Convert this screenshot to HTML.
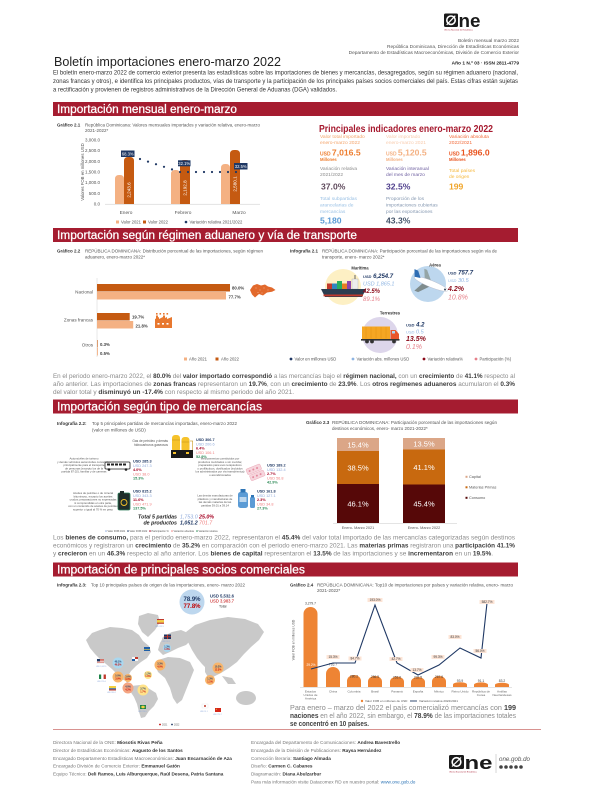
<!DOCTYPE html>
<html lang="es"><head><meta charset="utf-8"><title>Boletín importaciones enero-marzo 2022</title>
<style>
html,body{margin:0;padding:0;background:#fff;width:612px;height:792px;overflow:hidden}
svg{display:block;font-family:"Liberation Sans",Arial,sans-serif}
</style></head><body>
<svg width="612" height="792" viewBox="0 0 612 792" xmlns="http://www.w3.org/2000/svg">
<rect width="612" height="792" fill="#fff"/>

<!-- ===== HEADER ===== -->
<g transform="translate(444,13)">
<rect x="0" y="0.5" width="14" height="13.5" rx="1.5" fill="#1a1a1a"/>
<circle cx="7" cy="7.2" r="4.2" fill="none" stroke="#fff" stroke-width="1.6"/>
<line x1="2.7" y1="11.8" x2="11.3" y2="2.7" stroke="#fff" stroke-width="1.2"/>
<text x="14.5" y="13.8" font-size="18" font-weight="bold" fill="#1a1a1a" textLength="22" lengthAdjust="spacingAndGlyphs">ne</text>
<text x="0" y="17.3" font-size="2.1" fill="#A6192E">Oficina Nacional de Estadística</text>
</g>
<g font-size="4.8" fill="#555" text-anchor="end">
<text x="519" y="42">Boletín mensual marzo 2022</text>
<text x="519" y="48">República Dominicana, Dirección de Estadísticas Económicas</text>
<text x="519" y="54">Departamento de Estadísticas Macroeconómicas, División de Comercio Exterior</text>
<text x="519" y="64.5" font-weight="bold" fill="#222">Año 1 N.º 03 · ISSN 2811-4779</text>
</g>
<text x="54" y="66" font-size="12.5" fill="#222" textLength="227" lengthAdjust="spacingAndGlyphs">Boletín importaciones enero-marzo 2022</text>
<g font-size="6.3" fill="#333">
<text x="53" y="74.5" textLength="465" lengthAdjust="spacingAndGlyphs">El boletín enero-marzo 2022 de comercio exterior presenta las estadísticas sobre las importaciones de bienes y mercancías, desagregados, según su régimen aduanero (nacional,</text>
<text x="53" y="83" textLength="465" lengthAdjust="spacingAndGlyphs">zonas francas y otros), e identifica los principales productos, vías de transporte y la participación de los principales países socios comerciales del país. Estas cifras están sujetas</text>
<text x="53" y="91.5" textLength="284" lengthAdjust="spacingAndGlyphs">a rectificación y provienen de registros administrativos de la Dirección General de Aduanas (DGA) validados.</text>
</g>

<!-- ===== SECTION BARS ===== -->
<g fill="#A51C30">
<rect x="53" y="102" width="465" height="14"/>
<rect x="53" y="228" width="465" height="14"/>
<rect x="53" y="399.5" width="465" height="14"/>
<rect x="53" y="562.5" width="465" height="14"/>
</g>
<g fill="#fff" font-size="11.5" stroke="#fff" stroke-width="0.25">
<text x="57" y="113.2" textLength="180" lengthAdjust="spacingAndGlyphs">Importación mensual enero-marzo</text>
<text x="57" y="239.2" textLength="300" lengthAdjust="spacingAndGlyphs">Importación según régimen aduanero y vía de transporte</text>
<text x="57" y="410.7" textLength="205" lengthAdjust="spacingAndGlyphs">Importación según tipo de mercancías</text>
<text x="57" y="573.7" textLength="248" lengthAdjust="spacingAndGlyphs">Importación de principales socios comerciales</text>
</g>

<!-- ===== SECTION 1: CHART 2.1 ===== -->
<text x="57" y="126.5" font-size="4.5" font-weight="bold" fill="#333">Gráfico 2.1</text>
<text x="85" y="126.5" font-size="4.5" fill="#555" textLength="175" lengthAdjust="spacingAndGlyphs">República Dominicana: Valores mensuales importados y variación relativa, enero-marzo</text>
<text x="85" y="132" font-size="4.5" fill="#555">2021-2022*</text>
<g font-size="4.5" fill="#555" text-anchor="end">
<text x="100" y="141.5">3,000.0</text>
<text x="100" y="152.2">2,500.0</text>
<text x="100" y="162.8">2,000.0</text>
<text x="100" y="173.5">1,500.0</text>
<text x="100" y="184.2">1,000.0</text>
<text x="100" y="194.8">500.0</text>
<text x="100" y="205.5">0.0</text>
</g>
<text transform="translate(84,172) rotate(-90)" text-anchor="middle" font-size="4.3" fill="#555">Valores FOB en millones USD</text>
<line x1="105" y1="204.2" x2="260" y2="204.2" stroke="#c8c8c8" stroke-width="0.5"/>
<g fill="#F4B183">
<path d="M115,204 V179 Q115,175 119,175 H120 Q124,175 124,179 V204 Z"/>
<path d="M171,204 V174 Q171,170 175,170 H176 Q180,170 180,174 V204 Z"/>
<path d="M221,204 V168 Q221,164 225,164 H226 Q230,164 230,168 V204 Z"/>
</g>
<g fill="#C55A11">
<path d="M124,204 V161 Q124,157 128,157 H130 Q134,157 134,161 V204 Z"/>
<path d="M180,204 V164 Q180,160 184,160 H186 Q190,160 190,164 V204 Z"/>
<path d="M230,204 V154 Q230,150 234,150 H236 Q240,150 240,154 V204 Z"/>
</g>
<g font-size="4.6" fill="#fff" text-anchor="middle">
<text transform="translate(130.7,190) rotate(-90)">2,243.6</text>
<text transform="translate(186.7,188) rotate(-90)">2,192.8</text>
<text transform="translate(236.7,184) rotate(-90)">2,580.1</text>
</g>
<g fill="#1F3864">
<circle cx="140" cy="159" r="1.1"/><circle cx="148" cy="161.6" r="1.1"/><circle cx="156" cy="164.2" r="1.1"/>
<circle cx="164" cy="166.8" r="1.1"/><circle cx="172" cy="169.4" r="1.1"/><circle cx="180" cy="172" r="1.1"/>
<circle cx="188" cy="172" r="1.1"/><circle cx="196" cy="172" r="1.1"/><circle cx="204" cy="172" r="1.1"/>
<circle cx="212" cy="172" r="1.1"/><circle cx="220" cy="172" r="1.1"/><circle cx="228" cy="172" r="1.1"/>
<circle cx="236" cy="172" r="1.1"/>
<rect x="121" y="150.5" width="13.5" height="6.5"/>
<rect x="178" y="160.3" width="12.5" height="6"/>
<rect x="234" y="163" width="13.5" height="6.5"/>
</g>
<g font-size="4.2" fill="#fff" text-anchor="middle">
<text x="127.7" y="155.4">68.3%</text>
<text x="184.2" y="165">32.1%</text>
<text x="240.7" y="167.9">32.5%</text>
</g>
<g font-size="4.8" fill="#555" text-anchor="middle">
<text x="126" y="214">Enero</text>
<text x="183" y="214">Febrero</text>
<text x="239" y="214">Marzo</text>
</g>
<g font-size="4.2" fill="#555">
<rect x="116" y="220.5" width="3" height="3" fill="#F4B183"/><text x="121" y="223.5">Valor 2021</text>
<rect x="143" y="220.5" width="3" height="3" fill="#C55A11"/><text x="148" y="223.5">Valor 2022</text>
<circle cx="186" cy="222" r="1.3" fill="#1F3864"/><text x="189.5" y="223.5">Variación relativa 2021/2022</text>
</g>

<!-- ===== SECTION 1: INDICATORS ===== -->
<text x="319" y="132" font-size="10" font-weight="bold" fill="#A6192E" textLength="174" lengthAdjust="spacingAndGlyphs">Principales indicadores enero-marzo 2022</text>
<g font-size="4.9">
<text x="320" y="137.8" fill="#F4A46A">Valor total importado</text>
<text x="320" y="143.8" fill="#F4A46A">enero-marzo 2022</text>
<text x="320" y="155.5" fill="#EE7D2E" font-weight="bold"><tspan font-size="5">USD</tspan> <tspan font-size="8.6">7,016.5</tspan></text>
<text x="320" y="161" fill="#EE7D2E" font-weight="bold" font-size="4.2">Millones</text>

<text x="386" y="137.8" fill="#F8CBAD">Valor importado</text>
<text x="386" y="143.8" fill="#F8CBAD">enero-marzo 2021</text>
<text x="386" y="155.5" fill="#F4B183" font-weight="bold"><tspan font-size="5">USD</tspan> <tspan font-size="8.6">5,120.5</tspan></text>
<text x="386" y="161" fill="#F4B183" font-weight="bold" font-size="4.2">Millones</text>

<text x="449" y="137.8" fill="#F26B3A">Variación absoluta</text>
<text x="449" y="143.8" fill="#F26B3A">2022/2021</text>
<text x="449" y="155.5" fill="#E9541F" font-weight="bold"><tspan font-size="5">USD</tspan> <tspan font-size="8.6">1,896.0</tspan></text>
<text x="449" y="161" fill="#E9541F" font-weight="bold" font-size="4.2">Millones</text>

<text x="320" y="170" fill="#8C8C8C">Variación relativa</text>
<text x="320" y="176" fill="#8C8C8C">2021/2022</text>
<text x="321" y="189.5" fill="#5F4A5C" font-weight="bold" font-size="8.6">37.0%</text>

<text x="386" y="170" fill="#6E5FA0">Variación interanual</text>
<text x="386" y="176" fill="#6E5FA0">del mes de marzo</text>
<text x="386" y="189.5" fill="#4F3F8C" font-weight="bold" font-size="8.6">32.5%</text>

<text x="449" y="172" fill="#F6B83C">Total países</text>
<text x="449" y="178" fill="#F6B83C">de origen</text>
<text x="449" y="189.5" fill="#F0A52A" font-weight="bold" font-size="8.6">199</text>

<text x="320" y="200" fill="#9CC2E5">Total subpartidas</text>
<text x="320" y="206.5" fill="#9CC2E5">arancelarias de</text>
<text x="320" y="213" fill="#9CC2E5">mercancías</text>
<text x="320" y="223.5" fill="#5B9BD5" font-weight="bold" font-size="8.6">5,180</text>

<text x="386" y="200" fill="#8497B0">Proporción de los</text>
<text x="386" y="206.5" fill="#8497B0">importaciones cubiertas</text>
<text x="386" y="213" fill="#8497B0">por las exportaciones</text>
<text x="386" y="223.5" fill="#44546A" font-weight="bold" font-size="8.6">43.3%</text>
</g>

<!-- ===== SECTION 2: CHART 2.2 ===== -->
<text x="57" y="252.5" font-size="4.5" font-weight="bold" fill="#333">Gráfico 2.2</text>
<text x="85" y="252.5" font-size="4.5" fill="#555" textLength="178" lengthAdjust="spacingAndGlyphs">REPÚBLICA DOMINICANA: Distribución porcentual de las importaciones, según régimen</text>
<text x="85" y="258.5" font-size="4.5" fill="#555">aduanero, enero-marzo 2022*</text>
<line x1="97" y1="278" x2="97" y2="357" stroke="#d0d0d0" stroke-width="0.5"/>
<rect x="97" y="284" width="133" height="7.5" fill="#C55A11"/>
<rect x="97" y="292" width="129" height="7.5" fill="#F4B183"/>
<rect x="97" y="313" width="32.7" height="7.5" fill="#C55A11"/>
<rect x="97" y="321" width="36.2" height="7.5" fill="#F4B183"/>
<rect x="97" y="340" width="0.6" height="7.5" fill="#C55A11"/>
<rect x="97" y="348" width="0.9" height="7.5" fill="#F4B183"/>
<g font-size="4.3" font-weight="bold" fill="#404040">
<text x="232" y="289.3">80.0%</text>
<text x="228.5" y="298.3">77.7%</text>
<text x="132" y="318.3">19.7%</text>
<text x="135.5" y="327.6">21.8%</text>
<text x="100" y="346">0.3%</text>
<text x="100" y="355">0.5%</text>
</g>
<g font-size="4.6" fill="#555" text-anchor="end">
<text x="93" y="293.3">Nacional</text>
<text x="93" y="321.7">Zonas francas</text>
<text x="93" y="346.7">Otros</text>
</g>
<path d="M250,290 L253,285.5 L257,284 L261,285.5 L265,284.5 L268,286.5 L272,287.5 L275.5,290 L272,291.8 L267,292.5 L263,295.5 L259,294 L255,297.5 L252,294.5 Z" fill="#E2692C"/>
<g fill="#fff" opacity="0.55"><circle cx="256" cy="288" r="0.5"/><circle cx="260" cy="290" r="0.5"/><circle cx="264" cy="288" r="0.5"/><circle cx="268" cy="290" r="0.5"/><circle cx="258" cy="292.5" r="0.5"/><circle cx="262" cy="293" r="0.5"/></g>
<g fill="#E8782F">
<rect x="156" y="313" width="1.6" height="1.6"/><rect x="159.5" y="313" width="1.6" height="1.6"/><rect x="163" y="313" width="1.6" height="1.6"/><rect x="166.5" y="313" width="1.6" height="1.6"/>
<rect x="156" y="315.5" width="2" height="4"/><rect x="163" y="315.5" width="2" height="4"/>
<path d="M155,328 V319 L159,317 V319 L163,317 V319 L167,317 V319 L172,317 V328 Z"/>
</g>
<g fill="#fff"><rect x="157.5" y="323" width="2" height="1.6"/><rect x="162" y="323" width="2" height="1.6"/><rect x="166.5" y="323" width="2" height="1.6"/></g>
<g font-size="4.2" fill="#555">
<rect x="184" y="357.5" width="3" height="3" fill="#F4B183"/><text x="189" y="360.5">Año 2021</text>
<rect x="215.5" y="357.5" width="3" height="3" fill="#C55A11"/><text x="221" y="360.5">Año 2022</text>
</g>

<!-- ===== SECTION 2: INFOGRAFIA 2.1 ===== -->
<text x="290" y="252.5" font-size="4.5" font-weight="bold" fill="#333">Infografía 2.1</text>
<text x="322" y="252.5" font-size="4.5" fill="#555" textLength="175" lengthAdjust="spacingAndGlyphs">REPÚBLICA DOMINICANA: Participación porcentual de las importaciones según vía de</text>
<text x="322" y="258.5" font-size="4.5" fill="#555">transporte, enero- marzo 2022*</text>
<circle cx="343" cy="287" r="18" fill="#FDF0C4"/>
<text x="360" y="269.5" font-size="4.2" font-weight="bold" fill="#333" text-anchor="middle">Marítima</text>
<rect x="327" y="283.5" width="5" height="5.5" fill="#C0392B"/>
<rect x="332" y="283.5" width="5" height="5.5" fill="#2E86C1"/>
<rect x="337" y="281" width="5" height="8" fill="#27AE60"/>
<rect x="342" y="283.5" width="5" height="5.5" fill="#E67E22"/>
<rect x="347" y="281" width="4" height="8" fill="#8E44AD"/>
<rect x="352" y="279" width="6" height="10" fill="#ECECEC" stroke="#999" stroke-width="0.3"/>
<rect x="354.5" y="275" width="1" height="4" fill="#666"/>
<path d="M321,289 L366,289 L362,297 L325,297 Z" fill="#2C3E50"/>
<rect x="323.5" y="294.5" width="39.5" height="1.8" fill="#C0392B"/>
<g font-style="italic">
<text x="363" y="278" font-size="6" font-weight="bold" fill="#1F3864"><tspan font-size="4">USD</tspan> 6,254.7</text>
<text x="363" y="285.5" font-size="5.5" fill="#8DB4E2">USD 1,865.1</text>
<text x="363" y="293" font-size="6" font-weight="bold" fill="#8B0A1A">42.5%</text>
<text x="363" y="301" font-size="6" fill="#E6808A">89.1%</text>
</g>
<circle cx="428" cy="284" r="18" fill="#BDD7EE"/>
<text x="435" y="266.5" font-size="4.2" font-weight="bold" fill="#333" text-anchor="middle">Aérea</text>
<g transform="rotate(22 430 284)">
<path d="M424,284 L418,296 L422,296 L432,285 Z" fill="#7f8c8d"/>
<path d="M424,283 L419,272 L422,272 L431,282 Z" fill="#95a5a6"/>
<ellipse cx="431" cy="283.5" rx="18" ry="3.3" fill="#fff" stroke="#aab" stroke-width="0.3"/>
<path d="M413,283 L410,276 L414,276 L419,282 Z" fill="#2E6DB4"/>
<circle cx="446" cy="283.5" r="1" fill="#34495e"/>
</g>
<g font-style="italic">
<text x="448" y="274.5" font-size="6" font-weight="bold" fill="#1F3864"><tspan font-size="4">USD</tspan> 757.7</text>
<text x="448" y="282" font-size="5.5" fill="#8DB4E2"><tspan font-size="4">USD</tspan> 30.5</text>
<text x="448" y="291" font-size="7" font-weight="bold" fill="#8B0A1A">4.2%</text>
<text x="448" y="299.5" font-size="7" fill="#E6808A">10.8%</text>
</g>
<circle cx="380" cy="335" r="18" fill="#DDD6EB"/>
<text x="390" y="314.5" font-size="4.2" font-weight="bold" fill="#333" text-anchor="middle">Terrestres</text>
<rect x="362" y="326.5" width="28" height="12.5" fill="#F5A623"/>
<g stroke="#E08E0B" stroke-width="0.4"><line x1="366" y1="327" x2="366" y2="338.5"/><line x1="371" y1="327" x2="371" y2="338.5"/><line x1="376" y1="327" x2="376" y2="338.5"/><line x1="381" y1="327" x2="381" y2="338.5"/><line x1="386" y1="327" x2="386" y2="338.5"/></g>
<path d="M390.5,339 V330 H395.5 L399,334 V339 Z" fill="#E8542A"/>
<rect x="392" y="331" width="3" height="2.5" fill="#AED6F1"/>
<rect x="361" y="339" width="38.5" height="1.6" fill="#333"/>
<circle cx="367" cy="341.5" r="1.9" fill="#333"/><circle cx="372" cy="341.5" r="1.9" fill="#333"/><circle cx="394" cy="341.5" r="1.9" fill="#333"/>
<g font-style="italic">
<text x="406" y="326.5" font-size="6" font-weight="bold" fill="#1F3864"><tspan font-size="4">USD</tspan> 4.2</text>
<text x="406" y="333.5" font-size="5.5" fill="#8DB4E2"><tspan font-size="4">USD</tspan> 0.5</text>
<text x="406" y="341" font-size="7" font-weight="bold" fill="#8B0A1A">13.5%</text>
<text x="406" y="349" font-size="7" fill="#E6808A">0.1%</text>
</g>
<g font-size="4.2" fill="#555">
<circle cx="291" cy="359" r="1.4" fill="#1F3864"/><text x="294.5" y="360.5">Valor en millones USD</text>
<circle cx="353" cy="359" r="1.4" fill="#8DB4E2"/><text x="356.5" y="360.5">Variación abs. millones USD</text>
<circle cx="424" cy="359" r="1.4" fill="#8B0A1A"/><text x="427.5" y="360.5">Variación relativa%</text>
<circle cx="476" cy="359" r="1.4" fill="#E6808A"/><text x="479.5" y="360.5">Participación (%)</text>
</g>

<!-- paragraph 2 -->
<g font-size="6.3" fill="#8a8a8a">
<text x="53" y="378" textLength="462" lengthAdjust="spacingAndGlyphs">En el periodo enero-marzo 2022, el <tspan font-weight="bold" fill="#404040">80.0%</tspan> del <tspan font-weight="bold" fill="#404040">valor importado correspondió</tspan> a las mercancías bajo el <tspan font-weight="bold" fill="#404040">régimen nacional,</tspan> con un <tspan font-weight="bold" fill="#404040">crecimiento</tspan> de <tspan font-weight="bold" fill="#404040">41.1%</tspan> respecto al</text>
<text x="53" y="386" textLength="462" lengthAdjust="spacingAndGlyphs">año anterior.  Las importaciones de <tspan font-weight="bold" fill="#404040">zonas francas</tspan> representaron un <tspan font-weight="bold" fill="#404040">19.7%</tspan>, con un <tspan font-weight="bold" fill="#404040">crecimiento</tspan> de <tspan font-weight="bold" fill="#404040">23.9%</tspan>. Los <tspan font-weight="bold" fill="#404040">otros regímenes aduaneros</tspan> acumularon el <tspan font-weight="bold" fill="#404040">0.3%</tspan></text>
<text x="53" y="394" textLength="241" lengthAdjust="spacingAndGlyphs">del valor total y <tspan font-weight="bold" fill="#404040">disminuyó un -17.4%</tspan> con respecto al mismo periodo del año 2021.</text>
</g>

<!-- ===== SECTION 3: INFOGRAFIA 2.2 ===== -->
<text x="57" y="425" font-size="4.5" font-weight="bold" fill="#333">Infografía 2.2:</text>
<text x="92" y="425" font-size="4.5" fill="#555" textLength="145" lengthAdjust="spacingAndGlyphs">Top 5 principales partidas de mercancías importadas, enero-marzo 2022</text>
<text x="92" y="431.5" font-size="4.5" fill="#555">(valor en millones de USD)</text>
<rect x="172" y="435" width="8" height="17" rx="3" fill="#F6C22B"/>
<rect x="181.5" y="437" width="8" height="15" rx="3" fill="#F6C22B"/>
<g stroke="#C9971A" stroke-width="0.6"><line x1="172" y1="440" x2="180" y2="440"/><line x1="181.5" y1="442" x2="189.5" y2="442"/><line x1="190" y1="441" x2="193" y2="441"/><line x1="192.5" y1="441" x2="192.5" y2="450"/></g>
<rect x="171" y="450" width="22" height="8" fill="#1a1a1a"/>
<rect x="173" y="452" width="3" height="2" fill="#F6C22B"/><rect x="186" y="452" width="3" height="2" fill="#F6C22B"/>
<g font-size="3.2" fill="#555" text-anchor="end"><text x="168" y="442">Gas de petróleo y demás</text><text x="168" y="446">hidrocarburos gaseosos</text></g>
<rect x="105" y="462" width="25" height="7" rx="1" fill="#fff" stroke="#222" stroke-width="0.8"/>
<g fill="#222"><rect x="107" y="463.5" width="3" height="2"/><rect x="111" y="463.5" width="3" height="2"/><rect x="115" y="463.5" width="3" height="2"/><rect x="119" y="463.5" width="3" height="2"/><rect x="123" y="463.5" width="3" height="2"/><circle cx="109" cy="469.5" r="1.3"/><circle cx="126" cy="469.5" r="1.3"/></g>
<g font-size="2.8" fill="#555" text-anchor="middle">
<text x="84" y="459.5">Automóviles de turismo</text>
<text x="84" y="462.8">y demás vehículos automóviles concebidos</text>
<text x="84" y="466.1">principalmente para el transporte</text>
<text x="84" y="469.4">de personas (excepto los de la</text>
<text x="84" y="472.7">partida 87.02), familiar y de carreras</text>
</g>
<g transform="rotate(-22 255 471)">
<rect x="247" y="466" width="15" height="6" rx="1" fill="#F6D5DC" stroke="#E8A0B0" stroke-width="0.4"/>
<rect x="248" y="473" width="15" height="6" rx="1" fill="#F6D5DC" stroke="#E8A0B0" stroke-width="0.4"/>
<g fill="#E38BA0"><circle cx="250" cy="469" r="1"/><circle cx="254" cy="469" r="1"/><circle cx="258" cy="469" r="1"/><circle cx="251" cy="476" r="1"/><circle cx="255" cy="476" r="1"/><circle cx="259" cy="476" r="1"/></g>
</g>
<g font-size="2.8" fill="#555" text-anchor="middle">
<text x="220" y="459.5">Medicamentos constituidos por</text>
<text x="220" y="462.8">productos mezclados o sin mezclar,</text>
<text x="220" y="466.1">preparados para usos terapéuticos</text>
<text x="220" y="469.4">o profilácticos, dosificados (incluidos</text>
<text x="220" y="472.7">los administrados por vía transdérmica)</text>
<text x="220" y="476">o acondicionados</text>
</g>
<rect x="118" y="493" width="12" height="17" rx="1.5" fill="#1F2D2A" stroke="#2E7D5B" stroke-width="0.8"/>
<rect x="120" y="491" width="4" height="3" fill="#1F2D2A"/>
<circle cx="124" cy="502.5" r="3" fill="none" stroke="#F6C22B" stroke-width="0.9"/>
<g font-size="2.8" fill="#555" text-anchor="middle">
<text x="93" y="494">Aceites de petróleo o de mineral</text>
<text x="93" y="497.3">bituminoso, excepto los aceites</text>
<text x="93" y="500.6">crudos; preparaciones no expresadas</text>
<text x="93" y="503.9">ni comprendidas en otra parte,</text>
<text x="93" y="507.2">con un contenido de aceites de petróleo</text>
<text x="93" y="510.5">superior o igual al 70 % en peso</text>
</g>
<rect x="238" y="492" width="10" height="16" rx="2.5" fill="#5B9BD5"/>
<rect x="240.5" y="489" width="5" height="3.5" fill="#2E75B6"/>
<rect x="239.5" y="497" width="7" height="5" fill="#BDD7EE"/>
<rect x="250" y="497" width="5" height="11" rx="1.5" fill="#5B9BD5"/>
<rect x="251" y="495" width="3" height="2.5" fill="#2E75B6"/>
<g font-size="2.8" fill="#555" text-anchor="middle">
<text x="215" y="496.5">Las demás manufacturas de</text>
<text x="215" y="499.8">plásticos y manufacturas de</text>
<text x="215" y="503.1">las demás materias de las</text>
<text x="215" y="506.4">partidas 39.01 a 39.14</text>
</g>
<g font-size="3.8">
<text x="196" y="441" fill="#1F3864" font-weight="bold">USD 306.7</text>
<text x="196" y="445.3" fill="#8EA9DB">USD 200.6</text>
<text x="196" y="449.6" fill="#A50021" font-weight="bold">6.4%</text>
<text x="196" y="453.9" fill="#F08080">USD 106.1</text>
<text x="196" y="458.2" fill="#2E8B57" font-weight="bold">52.9%</text>
<text x="133" y="462.5" fill="#1F3864" font-weight="bold">USD 285.3</text>
<text x="133" y="466.8" fill="#8EA9DB">USD 247.3</text>
<text x="133" y="471.1" fill="#A50021" font-weight="bold">4.0%</text>
<text x="133" y="475.4" fill="#F08080">USD 38.0</text>
<text x="133" y="479.7" fill="#2E8B57" font-weight="bold">15.3%</text>
<text x="267" y="466.5" fill="#1F3864" font-weight="bold">USD 189.2</text>
<text x="267" y="470.8" fill="#8EA9DB">USD 132.4</text>
<text x="267" y="475.1" fill="#A50021" font-weight="bold">2.7%</text>
<text x="267" y="479.4" fill="#F08080">USD 56.8</text>
<text x="267" y="483.7" fill="#2E8B57" font-weight="bold">42.9%</text>
<text x="133" y="492.5" fill="#1F3864" font-weight="bold">USD 815.2</text>
<text x="133" y="496.8" fill="#8EA9DB">USD 343.3</text>
<text x="133" y="501.1" fill="#A50021" font-weight="bold">11.6%</text>
<text x="133" y="505.4" fill="#F08080">USD 471.9</text>
<text x="133" y="509.7" fill="#2E8B57" font-weight="bold">137.5%</text>
<text x="257" y="492.5" fill="#1F3864" font-weight="bold">USD 161.8</text>
<text x="257" y="496.8" fill="#8EA9DB">USD 127.1</text>
<text x="257" y="501.1" fill="#A50021" font-weight="bold">2.3%</text>
<text x="257" y="505.4" fill="#F08080">USD 34.8</text>
<text x="257" y="509.7" fill="#2E8B57" font-weight="bold">27.3%</text>
</g>
<g font-size="5.3" font-style="italic" font-weight="bold">
<text x="177" y="518.5" fill="#222" text-anchor="end">Total 5 partidas</text>
<text x="177" y="524.5" fill="#222" text-anchor="end">de productos</text>
<text x="180" y="518.5" fill="#8EA9DB" font-weight="normal">1,753.0</text>
<text x="180" y="524.5" fill="#1F3864">1,051.2</text>
<text x="199" y="518.5" fill="#A50021">25.0%</text>
<text x="199" y="524.5" fill="#F08080" font-weight="normal">701.7</text>
</g>
<g font-size="2.5" fill="#555">
<circle cx="106" cy="531" r="0.8" fill="#8EA9DB"/><text x="107.5" y="531.8">Valor FOB 2021</text>
<circle cx="128" cy="531" r="0.8" fill="#1F3864"/><text x="129.5" y="531.8">Valor FOB 2022</text>
<circle cx="150" cy="531" r="0.8" fill="#A50021"/><text x="151.5" y="531.8">Participación %</text>
<circle cx="172" cy="531" r="0.8" fill="#F08080"/><text x="173.5" y="531.8">Variación absoluta</text>
<circle cx="197" cy="531" r="0.8" fill="#2E8B57"/><text x="198.5" y="531.8">Variación relativa</text>
</g>

<!-- ===== SECTION 3: CHART 2.3 ===== -->
<text x="306" y="424" font-size="4.5" font-weight="bold" fill="#333">Gráfico 2.3</text>
<text x="332" y="424" font-size="4.5" fill="#555" textLength="165" lengthAdjust="spacingAndGlyphs">REPÚBLICA DOMINICANA: Participación porcentual de las importaciones según</text>
<text x="332" y="430" font-size="4.5" fill="#555">destinos económicos, enero- marzo 2021-2022*</text>
<rect x="337" y="438" width="42" height="13" fill="#DBA687"/>
<rect x="337" y="451" width="42" height="33" fill="#C8690F"/>
<rect x="337" y="484" width="42" height="39" fill="#560808"/>
<rect x="403" y="438" width="42" height="11.5" fill="#DBA687"/>
<rect x="403" y="449.5" width="42" height="35" fill="#C8690F"/>
<rect x="403" y="484.5" width="42" height="38.5" fill="#560808"/>
<line x1="333" y1="523.3" x2="457" y2="523.3" stroke="#c8c8c8" stroke-width="0.5"/>
<g font-size="7.5" fill="#fff" text-anchor="middle">
<text x="358" y="447.3">15.4%</text>
<text x="358" y="470.3">38.5%</text>
<text x="358" y="506.3">46.1%</text>
<text x="424" y="446.5">13.5%</text>
<text x="424" y="469.8">41.1%</text>
<text x="424" y="506.5">45.4%</text>
</g>
<g font-size="3.8" fill="#555" text-anchor="middle">
<text x="358" y="529">Enero- Marzo 2021</text>
<text x="424" y="529">Enero- Marzo 2022</text>
</g>
<g font-size="3.8" fill="#555">
<rect x="465.5" y="475.8" width="2" height="2" fill="#DBA687"/><text x="469" y="478">Capital</text>
<rect x="465.5" y="486.3" width="2" height="2" fill="#C8690F"/><text x="469" y="488.5">Materias Primas</text>
<rect x="465.5" y="496.8" width="2" height="2" fill="#560808"/><text x="469" y="499">Consumo</text>
</g>

<!-- paragraph 3 -->
<g font-size="6.3" fill="#8a8a8a">
<text x="53" y="539.5" textLength="462" lengthAdjust="spacingAndGlyphs">Los <tspan font-weight="bold" fill="#404040">bienes de consumo,</tspan> para el periodo enero-marzo 2022, representaron el <tspan font-weight="bold" fill="#404040">45.4%</tspan> del valor total importado de las mercancías categorizadas según destinos</text>
<text x="53" y="547.5" textLength="462" lengthAdjust="spacingAndGlyphs">económicos y registraron un <tspan font-weight="bold" fill="#404040">crecimiento</tspan> de <tspan font-weight="bold" fill="#404040">35.2%</tspan> en comparación con el periodo enero-marzo 2021. Las <tspan font-weight="bold" fill="#404040">materias primas</tspan> registraron una <tspan font-weight="bold" fill="#404040">participación 41.1%</tspan></text>
<text x="53" y="555.5" textLength="440" lengthAdjust="spacingAndGlyphs">y <tspan font-weight="bold" fill="#404040">crecieron</tspan> en un <tspan font-weight="bold" fill="#404040">46.3%</tspan> respecto al año anterior. Los <tspan font-weight="bold" fill="#404040">bienes de capital</tspan> representaron el <tspan font-weight="bold" fill="#404040">13.5%</tspan> de las importaciones y se <tspan font-weight="bold" fill="#404040">incrementaron</tspan> en un <tspan font-weight="bold" fill="#404040">19.5%</tspan>.</text>
</g>

<!-- ===== SECTION 4: INFOGRAFIA 2.3 (map) ===== -->
<text x="57" y="586.5" font-size="4.5" font-weight="bold" fill="#333">Infografía 2.3:</text>
<text x="91" y="586.5" font-size="4.5" fill="#555" textLength="154" lengthAdjust="spacingAndGlyphs">Top 10 principales países de origen de las importaciones, enero- marzo 2022</text>
<g fill="#C9C9C9">
<path d="M86,640 L92,633 L100,630 L110,627 L122,628 L132,630 L139,635 L143,641 L149,646 L151,652 L147,658 L141,662 L136,666 L131,671 L128,676 L126,681 L121,679 L117,674 L112,669 L106,664 L100,659 L95,654 L90,648 Z"/>
<path d="M139,616 L148,613 L158,615 L160,622 L155,630 L148,637 L142,632 L138,624 Z"/>
<path d="M126,681 L131,684 L134,687 L131,688 L127,684 Z"/>
<path d="M131,686 L140,685 L148,688 L156,693 L158,699 L154,706 L149,711 L145,717 L141,718 L139,712 L137,704 L134,697 L130,691 Z"/>
<path d="M160,643 L164,636 L172,632 L181,630 L188,633 L191,640 L186,645 L178,648 L170,652 L163,655 L158,650 Z"/>
<path d="M158,660 L168,657 L180,658 L190,662 L194,670 L190,680 L186,690 L182,700 L177,704 L173,698 L170,688 L165,678 L158,672 L155,665 Z"/>
<path d="M186,632 L195,625 L210,620 L228,617 L245,619 L258,624 L264,632 L259,640 L251,647 L244,654 L237,662 L229,668 L221,673 L213,677 L208,670 L202,664 L197,658 L192,650 L188,642 Z"/>
<path d="M205,664 L212,666 L213,675 L209,679 L205,672 Z"/>
<path d="M222,676 L232,678 L236,684 L228,684 Z"/>
<ellipse cx="246" cy="698" rx="10" ry="7"/>
<circle cx="164" cy="639" r="2"/>
</g>
<circle cx="192" cy="602" r="12.5" fill="#BDD7EE"/>
<text x="192" y="601" font-size="6" font-weight="bold" fill="#1F3864" text-anchor="middle">78.9%</text>
<text x="192" y="608" font-size="6" font-weight="bold" fill="#C00000" text-anchor="middle">77.8%</text>
<text x="210" y="597.5" font-size="4.2" fill="#1F3864" font-weight="bold">USD 5,532.6</text>
<text x="210" y="602.5" font-size="4.2" fill="#C00000">USD 3,983.7</text>
<text x="219" y="607.5" font-size="3.5" fill="#333">Total</text>
<g>
<circle cx="118" cy="663" r="5.5" fill="#A9D8F0"/>
<circle cx="118" cy="677" r="5.5" fill="#F8B56B"/>
<circle cx="128" cy="678" r="4" fill="#F8B56B"/>
<circle cx="128" cy="688" r="5.5" fill="#F4A582"/>
<circle cx="148" cy="675" r="4" fill="#FFE38A"/>
<circle cx="143" cy="690" r="5.5" fill="#FFE38A"/>
<circle cx="167" cy="648" r="4" fill="#A9D8F0"/>
<circle cx="160" cy="665" r="5.5" fill="#F8B56B"/>
<circle cx="210" cy="680" r="5" fill="#F8B56B"/>
<circle cx="218" cy="668" r="5.5" fill="#F8B56B"/>
</g>
<g font-size="2.4" font-weight="bold" text-anchor="middle">
<text x="118" y="662.5" fill="#1F3864">48.1%</text><text x="118" y="665.5" fill="#C00000">46.3%</text>
<text x="118" y="676.5" fill="#1F3864">5.0%</text><text x="118" y="679.5" fill="#C00000">3.9%</text>
<text x="128" y="677.5" fill="#1F3864">3.6%</text><text x="128" y="680" fill="#C00000">3.0%</text>
<text x="128" y="687.5" fill="#1F3864">4.0%</text><text x="128" y="690.5" fill="#C00000">4.2%</text>
<text x="148" y="674.5" fill="#1F3864">1.2%</text><text x="148" y="677" fill="#C00000">1.6%</text>
<text x="143" y="689.5" fill="#1F3864">3.7%</text><text x="143" y="692.5" fill="#C00000">1.7%</text>
<text x="167" y="647.5" fill="#1F3864">1.3%</text><text x="167" y="650" fill="#C00000">1.3%</text>
<text x="160" y="664.5" fill="#1F3864">3.3%</text><text x="160" y="667.5" fill="#C00000">4.0%</text>
<text x="210" y="679.5" fill="#1F3864">1.3%</text><text x="210" y="682.5" fill="#C00000">1.1%</text>
<text x="218" y="667.5" fill="#1F3864">10.2%</text><text x="218" y="670.5" fill="#C00000">12.3%</text>
</g>
<g>
<rect x="97" y="659" width="7" height="4.5" fill="#fff" stroke="#ccc" stroke-width="0.2"/>
<g fill="#C0392B"><rect x="97" y="659" width="7" height="0.7"/><rect x="97" y="660.4" width="7" height="0.7"/><rect x="97" y="661.8" width="7" height="0.7"/></g>
<rect x="97" y="659" width="3" height="2.3" fill="#1F3864"/>
<rect x="99" y="674.5" width="2.3" height="4.5" fill="#1E8449"/><rect x="101.3" y="674.5" width="2.3" height="4.5" fill="#fff"/><rect x="103.6" y="674.5" width="2.3" height="4.5" fill="#C0392B"/>
<rect x="109" y="686" width="7" height="2.3" fill="#F4D03F"/><rect x="109" y="688.3" width="7" height="1.1" fill="#1F5FA8"/><rect x="109" y="689.4" width="7" height="1.1" fill="#C0392B"/>
<rect x="132" y="657" width="6" height="4" fill="#fff" stroke="#ccc" stroke-width="0.2"/><rect x="135" y="657" width="3" height="2" fill="#C0392B"/><rect x="132" y="659" width="3" height="2" fill="#1F5FA8"/>
<rect x="144" y="647" width="6" height="4" fill="#1F5FA8"/><rect x="144" y="649" width="6" height="0.6" fill="#F4D03F"/>
<rect x="157" y="619" width="7" height="1.2" fill="#C0392B"/><rect x="157" y="620.2" width="7" height="2.4" fill="#F4D03F"/><rect x="157" y="622.6" width="7" height="1.2" fill="#C0392B"/>
<rect x="164" y="634.5" width="7" height="4.5" fill="#1F3864"/><rect x="164" y="636.3" width="7" height="0.9" fill="#C0392B"/><rect x="167" y="634.5" width="1" height="4.5" fill="#C0392B"/>
<rect x="202" y="704" width="6" height="4" fill="#fff" stroke="#ccc" stroke-width="0.2"/><circle cx="205" cy="706" r="1" fill="#C0392B"/>
<rect x="215" y="708" width="6" height="4" fill="#D62718"/><circle cx="216.3" cy="709.2" r="0.5" fill="#F4D03F"/>
<rect x="140" y="705" width="6" height="4" fill="#1E8449"/><path d="M143,705.5 L145.5,707 L143,708.5 L140.5,707 Z" fill="#F4D03F"/>
</g>
<g font-size="1.8" fill="#8EA9DB">
<text x="96" y="667">USD 2,647.9</text><text x="97" y="682">USD 276.6</text><text x="107" y="693">USD 280.2</text>
<text x="155" y="627">USD 232.5</text><text x="162" y="642">USD 93.9</text><text x="138" y="712">USD 256.5</text>
<text x="200" y="712">USD 91.1</text><text x="213" y="715">USD 716.7</text>
</g>
<g font-size="2.4" fill="#555">
<circle cx="160" cy="724.5" r="0.9" fill="#C00000"/><text x="162" y="725.3">2021</text>
<circle cx="172" cy="724.5" r="0.9" fill="#1F3864"/><text x="174" y="725.3">2022</text>
</g>

<!-- ===== SECTION 4: CHART 2.4 ===== -->
<text x="290" y="586.5" font-size="4.5" font-weight="bold" fill="#333">Gráfico 2.4</text>
<text x="317" y="586.5" font-size="4.5" fill="#555" textLength="196" lengthAdjust="spacingAndGlyphs">REPÚBLICA DOMINICANA: Top10 de importaciones por países y variación relativa, enero- marzo</text>
<text x="317" y="592" font-size="4.5" fill="#555">2021-2022*</text>
<text transform="translate(294.5,640) rotate(-90)" text-anchor="middle" font-size="3.3" fill="#555">Valor FOB en millones USD</text>
<g fill="#EE8434">
<path d="M303.5,687 V614 A7,7 0 0 1 317.5,614 V687 Z"/>
<path d="M326,687 V674 A7,7 0 0 1 340,674 V687 Z"/>
<path d="M347,687 V681 A7,6 0 0 1 361,681 V687 Z"/>
<path d="M368,687 V681.5 A7,5.5 0 0 1 382,681.5 V687 Z"/>
<path d="M390,687 V681.8 A7,5.2 0 0 1 404,681.8 V687 Z"/>
<path d="M411,687 V682 A7,5 0 0 1 425,682 V687 Z"/>
<path d="M432,687 V681.5 A7,5.5 0 0 1 446,681.5 V687 Z"/>
<path d="M453,687 V684.6 A7,2.4 0 0 1 467,684.6 V687 Z"/>
<path d="M474,687 V684.7 A7,2.3 0 0 1 488,684.7 V687 Z"/>
<path d="M495,687 V684.9 A7,2.1 0 0 1 509,684.9 V687 Z"/>
</g>
<line x1="300" y1="687.3" x2="512" y2="687.3" stroke="#c8c8c8" stroke-width="0.5"/>
<g font-size="3.3" fill="#404040" text-anchor="middle">
<text x="310.5" y="604.5">3,279.7</text>
<text x="333" y="665.5">716.7</text>
<text x="354" y="677.5">280.2</text>
<text x="375" y="678">256.5</text>
<text x="397" y="678.3">253.6</text>
<text x="418" y="678.5">232.5</text>
<text x="439" y="678">267.6</text>
<text x="460" y="682">93.9</text>
<text x="481" y="682">91.1</text>
<text x="502" y="682">83.2</text>
</g>
<polyline points="311,669 333,663 355,663 375,605 397,663 418,675 439,665 460,648 481,658 487,603" fill="none" stroke="#1F3864" stroke-width="1.1"/>
<g fill="#FCE4D6">
<rect x="326.5" y="655" width="13" height="4"/>
<rect x="348.5" y="656.5" width="13" height="4"/>
<rect x="367.5" y="598" width="15" height="4"/>
<rect x="389.5" y="657" width="13" height="4"/>
<rect x="410.5" y="668" width="13" height="4"/>
<rect x="431.5" y="655" width="13" height="4"/>
<rect x="448.5" y="635" width="13" height="4"/>
<rect x="473.5" y="649" width="13" height="4"/>
<rect x="479.5" y="600" width="15" height="4"/>
</g>
<g font-size="3.2" fill="#404040" text-anchor="middle">
<text x="311" y="666" fill="#fff">29.2%</text>
<text x="333" y="658.2">15.3%</text>
<text x="355" y="659.7">84.7%</text>
<text x="375" y="601.2">193.0%</text>
<text x="396" y="660.2">42.7%</text>
<text x="417" y="671.2">13.7%</text>
<text x="438" y="658.2">99.3%</text>
<text x="455" y="638.2">83.0%</text>
<text x="480" y="652.2">56.0%</text>
<text x="487" y="603.2">582.7%</text>
</g>
<g font-size="3.1" fill="#666" text-anchor="middle">
<text x="310.5" y="692.5">Estados</text><text x="310.5" y="696">Unidos de</text><text x="310.5" y="699.5">América</text>
<text x="333" y="692.5">China</text>
<text x="354" y="692.5">Colombia</text>
<text x="375" y="692.5">Brasil</text>
<text x="397" y="692.5">Panamá</text>
<text x="418" y="692.5">España</text>
<text x="439" y="692.5">México</text>
<text x="460" y="692.5">Reino Unido</text>
<text x="481" y="692.5">República de</text><text x="481" y="696">Corea</text>
<text x="502" y="692.5">Antillas</text><text x="502" y="696">Neerlandesas</text>
</g>
<g font-size="3.1" fill="#555">
<circle cx="362" cy="701" r="1.2" fill="#EE8434"/><text x="365" y="702.2">Valor FOB en millones de USD</text>
<line x1="410" y1="701" x2="417" y2="701" stroke="#1F3864" stroke-width="0.9"/><text x="419" y="702.2">Variación relativa 2022/2021</text>
</g>

<!-- paragraph 4 -->
<g font-size="7.6" fill="#8a8a8a">
<text x="290" y="710" textLength="226" lengthAdjust="spacingAndGlyphs">Para enero – marzo del 2022 el país comercializó mercancías con <tspan font-weight="bold" fill="#404040">199</tspan></text>
<text x="290" y="718" textLength="226" lengthAdjust="spacingAndGlyphs"><tspan font-weight="bold" fill="#404040">naciones</tspan> en el año 2022, sin embargo, el <tspan font-weight="bold" fill="#404040">78.9%</tspan> de las importaciones totales</text>
<text x="290" y="726" font-weight="bold" fill="#404040" textLength="79" lengthAdjust="spacingAndGlyphs">se concentró en 10 países.</text>
</g>

<!-- ===== FOOTER ===== -->
<line x1="53" y1="729.7" x2="541" y2="729.7" stroke="#C0504D" stroke-width="0.6"/>
<g font-size="4.7" fill="#777">
<text x="53" y="744">Directora Nacional de la ONE: <tspan font-weight="bold" fill="#333">Miosotis Rivas Peña</tspan></text>
<text x="53" y="752">Director de Estadísticas Económicas: <tspan font-weight="bold" fill="#333">Augusto de los Santos</tspan></text>
<text x="53" y="760">Encargado Departamento Estadísticas Macroeconómicas: <tspan font-weight="bold" fill="#333">Juan Encarnación de Aza</tspan></text>
<text x="53" y="767.5">Encargado División de Comercio Exterior: <tspan font-weight="bold" fill="#333">Emmanuel Gatón</tspan></text>
<text x="53" y="775.5">Equipo Técnico: <tspan font-weight="bold" fill="#333">Deli Ramos, Luis Alburquerque, Raúl Desena, Patria Santana</tspan></text>
<text x="251" y="744">Encargada del Departamento de Comunicaciones: <tspan font-weight="bold" fill="#333">Andrea Bavestrello</tspan></text>
<text x="251" y="752">Encargada de la División de Publicaciones: <tspan font-weight="bold" fill="#333">Raysa Hernández</tspan></text>
<text x="251" y="760">Corrección literaria: <tspan font-weight="bold" fill="#333">Santiago Almada</tspan></text>
<text x="251" y="767.5">Diseño: <tspan font-weight="bold" fill="#333">Carmen C. Cabanes</tspan></text>
<text x="251" y="775.5">Diagramación: <tspan font-weight="bold" fill="#333">Diana Abulzarbur</tspan></text>
<text x="251" y="783.5">Para más información visite Datacomex RD en nuestro portal: <tspan fill="#2E75B6">www.one.gob.do</tspan></text>
</g>
<g transform="translate(449,755)">
<rect x="0" y="0" width="15" height="14" rx="1.5" fill="#1a1a1a"/>
<circle cx="7.5" cy="7" r="4.3" fill="none" stroke="#fff" stroke-width="1.6"/>
<line x1="3" y1="11.5" x2="12" y2="2.5" stroke="#fff" stroke-width="1.2"/>
<text x="15.5" y="14" font-size="18" font-weight="bold" fill="#1a1a1a" textLength="28" lengthAdjust="spacingAndGlyphs">ne</text>
<text x="0" y="17.5" font-size="2" fill="#A6192E">Oficina Nacional de Estadística</text>
</g>
<line x1="496" y1="754" x2="496" y2="773" stroke="#999" stroke-width="0.4"/>
<text x="499" y="761" font-size="6.2" font-style="italic" fill="#555">one.gob.do</text>
<g fill="#444">
<circle cx="501" cy="767" r="1.8"/><circle cx="506" cy="767" r="1.8"/><circle cx="511" cy="767" r="1.8"/><circle cx="516" cy="767" r="1.8"/><circle cx="521" cy="767" r="1.8"/>
</g>
</svg>
</body></html>
